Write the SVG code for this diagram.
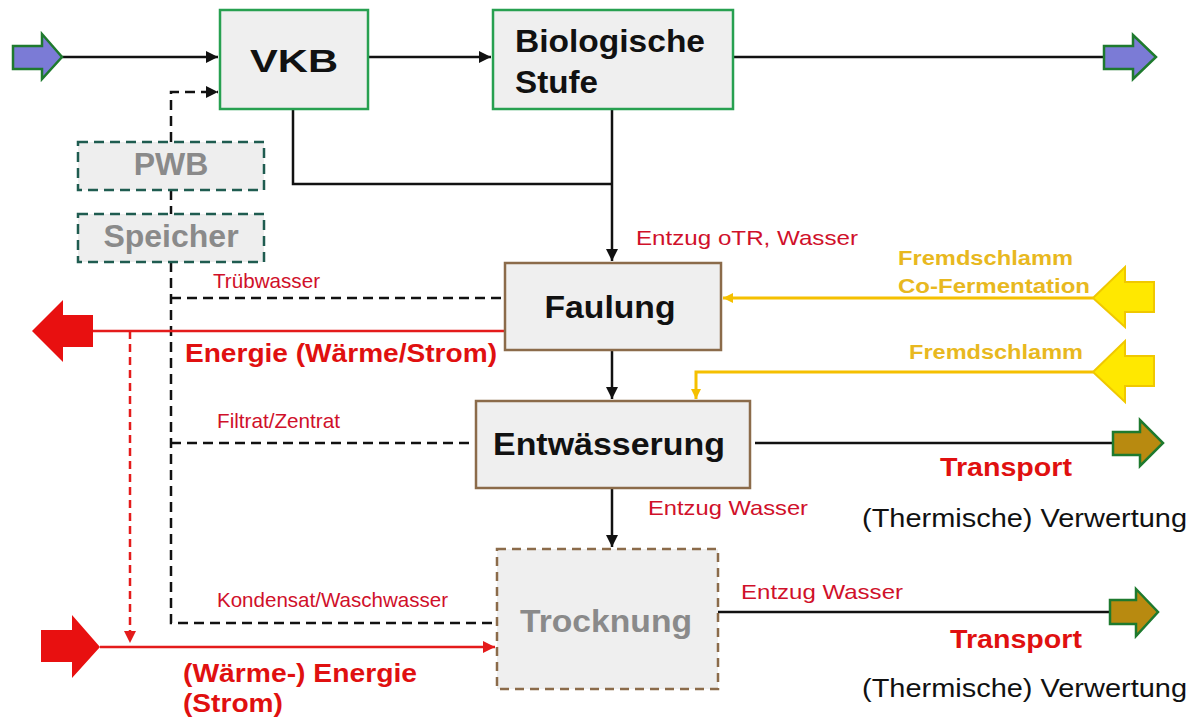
<svg xmlns="http://www.w3.org/2000/svg" width="1196" height="719" viewBox="0 0 1196 719">
<style>
.box{fill:#efefef;stroke-width:2.5}
.g{stroke:#27a050}
.b{stroke:#8b6b4a}
.dg{stroke:#1f5c50;stroke-dasharray:10 6;fill:#eeeeee;stroke-width:2.5}
.db{stroke:#8b6b4a;stroke-dasharray:9 6;stroke-width:2.5;fill:#efefef}
.t{font-family:"Liberation Sans",Arial,sans-serif;font-weight:bold;fill:#111;font-size:32px}
.gr{fill:#8a8a8a}
.lbl{font-family:"Liberation Sans",Arial,sans-serif;fill:#d0102a;font-size:21px}
.rb{font-family:"Liberation Sans",Arial,sans-serif;fill:#e01010;font-weight:bold;font-size:25px}
.yl{font-family:"Liberation Sans",Arial,sans-serif;fill:#e8b820;font-weight:bold;font-size:20px}
.bk{font-family:"Liberation Sans",Arial,sans-serif;fill:#111;font-size:25px}
.ln{fill:none;stroke:#111;stroke-width:2.5}
.dl{fill:none;stroke:#111;stroke-width:2.5;stroke-dasharray:10 6}
.rl{fill:none;stroke:#e41b1b;stroke-width:2.5}
.yln{fill:none;stroke:#f5c000;stroke-width:3}
</style>
<defs>
<marker id="ak" markerUnits="userSpaceOnUse" markerWidth="14" markerHeight="14" refX="12" refY="7" orient="auto"><path d="M0,1 L12,7 L0,13 Z" fill="#111"/></marker>
<marker id="ar" markerUnits="userSpaceOnUse" markerWidth="14" markerHeight="14" refX="12" refY="7" orient="auto"><path d="M0,1 L12,7 L0,13 Z" fill="#e41b1b"/></marker>
<marker id="ay" markerUnits="userSpaceOnUse" markerWidth="12" markerHeight="12" refX="10" refY="6" orient="auto"><path d="M0,1 L10,6 L0,11 Z" fill="#f5c000"/></marker>
</defs>

<g id="connectors">
<path class="ln" d="M62,57 H218" marker-end="url(#ak)"/>
<path class="ln" d="M368,57 H491" marker-end="url(#ak)"/>
<path class="ln" d="M733,57 H1104"/>
<path class="ln" d="M293,109 V184 H612"/>
<path class="ln" d="M612,109 V261" marker-end="url(#ak)"/>
<path class="ln" d="M612,350 V399" marker-end="url(#ak)"/>
<path class="ln" d="M612,488 V547" marker-end="url(#ak)"/>
<path class="ln" d="M755,443 H1113"/>
<path class="ln" d="M718,612 H1110"/>
<path class="dl" d="M171,142 V92 H218" marker-end="url(#ak)"/>
<path class="dl" d="M171,190 V214"/>
<path class="dl" d="M171,262 V623 H497"/>
<path class="dl" d="M171,298 H503"/>
<path class="dl" d="M171,443 H474"/>
<path class="rl" d="M505,331 H93"/>
<path class="rl" d="M130,331 V643" stroke-dasharray="8 5" marker-end="url(#ar)"/>
<path class="rl" d="M100,647 H495" marker-end="url(#ar)"/>
<path class="yln" d="M1093,298 H723" marker-end="url(#ay)"/>
<path class="yln" d="M1093,372 H696 V399" marker-end="url(#ay)"/>
</g>

<g id="arrow-in">
<path d="M13,46 H42 V34 L62,57 L42,79 V69 H13 Z" fill="#7b7bd6" stroke="#1e7a2e" stroke-width="2.5"/>
</g>
<g id="arrow-out">
<path d="M1104,46 H1133 V35 L1156,57 L1133,79 V69 H1104 Z" fill="#7b7bd6" stroke="#1e7a2e" stroke-width="2.5"/>
</g>
<g id="arrow-transport1">
<path d="M1113,432 H1140 V420 L1163,443 L1140,466 V455 H1113 Z" fill="#b88a10" stroke="#1e7a2e" stroke-width="2.5"/>
</g>
<g id="arrow-transport2">
<path d="M1110,600 H1136 V589 L1158,612 L1136,636 V624 H1110 Z" fill="#b88a10" stroke="#1e7a2e" stroke-width="2.5"/>
</g>
<g id="arrow-fremd1">
<path d="M1093,298 L1125,267 V282 H1154 V312 H1125 V327 Z" fill="#ffe800" stroke="#f0c800" stroke-width="2"/>
</g>
<g id="arrow-fremd2">
<path d="M1093,372 L1125,341 V356 H1154 V386 H1125 V402 Z" fill="#ffe800" stroke="#f0c800" stroke-width="2"/>
</g>
<g id="arrow-energie-out">
<path d="M32,331 L63,300 V315 H93 V347 H63 V362 Z" fill="#e81010"/>
</g>
<g id="arrow-energie-in">
<path d="M41,630 H72 V615 L100,647 L72,678 V662 H41 Z" fill="#e81010"/>
</g>

<g id="vkb">
<rect class="box g" x="220" y="10" width="148" height="99"/>
<text class="t" x="294" y="72" text-anchor="middle" font-size="34" textLength="88" lengthAdjust="spacingAndGlyphs">VKB</text>
</g>
<g id="bio">
<rect class="box g" x="493" y="10" width="240" height="99"/>
<text class="t" x="515" y="52" textLength="190" lengthAdjust="spacingAndGlyphs">Biologische</text>
<text class="t" x="515" y="93" textLength="83" lengthAdjust="spacingAndGlyphs">Stufe</text>
</g>
<g id="pwb">
<rect class="dg" x="78" y="142" width="186" height="48"/>
<text class="t gr" x="171" y="175" text-anchor="middle" font-size="23">PWB</text>
</g>
<g id="speicher">
<rect class="dg" x="78" y="214" width="186" height="48"/>
<text class="t gr" x="171" y="247" text-anchor="middle" font-size="23">Speicher</text>
</g>
<g id="faulung">
<rect class="box b" x="505" y="263" width="216" height="87"/>
<text class="t" x="610" y="318" text-anchor="middle" textLength="131" lengthAdjust="spacingAndGlyphs">Faulung</text>
</g>
<g id="entwaesserung">
<rect class="box b" x="476" y="401" width="274" height="87"/>
<text class="t" x="609" y="455" text-anchor="middle" textLength="232" lengthAdjust="spacingAndGlyphs">Entwässerung</text>
</g>
<g id="trocknung">
<rect class="db" x="497" y="549" width="221" height="140"/>
<text class="t gr" x="606" y="632" text-anchor="middle" textLength="172" lengthAdjust="spacingAndGlyphs">Trocknung</text>
</g>

<g id="labels">
<text class="lbl" x="636" y="245" textLength="222" lengthAdjust="spacingAndGlyphs">Entzug oTR, Wasser</text>
<text class="lbl" x="213" y="288" font-size="19" textLength="107" lengthAdjust="spacingAndGlyphs">Trübwasser</text>
<text class="lbl" x="217" y="428" font-size="19" textLength="123" lengthAdjust="spacingAndGlyphs">Filtrat/Zentrat</text>
<text class="lbl" x="217" y="607" font-size="20" textLength="231" lengthAdjust="spacingAndGlyphs">Kondensat/Waschwasser</text>
<text class="lbl" x="648" y="515" textLength="160" lengthAdjust="spacingAndGlyphs">Entzug Wasser</text>
<text class="lbl" x="741" y="599" textLength="162" lengthAdjust="spacingAndGlyphs">Entzug Wasser</text>
<text class="rb" x="185" y="362" textLength="312" lengthAdjust="spacingAndGlyphs">Energie (Wärme/Strom)</text>
<text class="rb" x="183" y="682" textLength="234" lengthAdjust="spacingAndGlyphs">(Wärme-) Energie</text>
<text class="rb" x="183" y="712" textLength="100" lengthAdjust="spacingAndGlyphs">(Strom)</text>
<text class="yl" x="898" y="265" textLength="175" lengthAdjust="spacingAndGlyphs">Fremdschlamm</text>
<text class="yl" x="898" y="293" textLength="192" lengthAdjust="spacingAndGlyphs">Co-Fermentation</text>
<text class="yl" x="909" y="359" textLength="174" lengthAdjust="spacingAndGlyphs">Fremdschlamm</text>
<text class="rb" x="1006" y="476" text-anchor="middle" font-size="27" textLength="132" lengthAdjust="spacingAndGlyphs">Transport</text>
<text class="rb" x="1016" y="648" text-anchor="middle" font-size="27" textLength="132" lengthAdjust="spacingAndGlyphs">Transport</text>
<text class="bk" x="862" y="527" textLength="325" lengthAdjust="spacingAndGlyphs">(Thermische) Verwertung</text>
<text class="bk" x="862" y="697" textLength="325" lengthAdjust="spacingAndGlyphs">(Thermische) Verwertung</text>
</g>
</svg>
